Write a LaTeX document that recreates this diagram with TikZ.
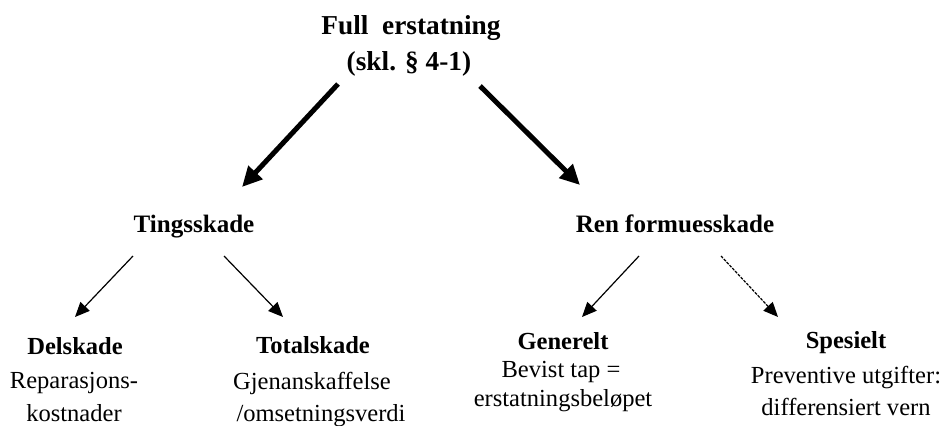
\documentclass[tikz,border=0pt]{standalone}
\usepackage{fontspec}
\setmainfont{Liberation Serif}
\usetikzlibrary{arrows.meta}
\tikzset{
  lbl/.style={anchor=base,inner sep=0pt,outer sep=0pt},
  topfont/.style={lbl,font=\fontsize{20.5}{24}\selectfont\bfseries},
  midfont/.style={lbl,font=\fontsize{18.8}{22}\selectfont\bfseries},
  headfont/.style={lbl,font=\fontsize{18.4}{22}\selectfont\bfseries},
  descfont/.style={lbl,font=\fontsize{18.4}{22}\selectfont},
  bigarrow/.style={line width=3.75pt,-{Triangle[length=15pt,width=14pt]}},
  thinarrow/.style={line width=0.9pt,-{Triangle[length=11pt,width=9.5pt]}},
  dotarrow/.style={thinarrow,dash pattern=on 2.2pt off 0.9pt}
}
\begin{document}
\begin{tikzpicture}[x=0.75pt,y=-0.75pt]
\useasboundingbox (0,0) rectangle (944,425);
% top
\node[topfont] (full) at (411,34) {Full\ \ erstatning};
\node[topfont] (skl) at (409,70) {(skl. § 4-1)};
% level 2
\node[midfont] (ting) at (194,232) {Tingsskade};
\node[midfont] (ren) at (675,232) {Ren formuesskade};
% bottom
\node[headfont] (del) at (75,354) {Delskade};
\node[descfont] (del1) at (74,388) {Reparasjons-};
\node[descfont] (del2) at (74,421) {kostnader};
\node[headfont] (tot) at (313,353) {Totalskade};
\node[descfont] (tot1) at (312,389) {Gjenanskaffelse};
\node[descfont] (tot2) at (321,421) {/omsetningsverdi};
\node[headfont] (gen) at (563,349) {Generelt};
\node[descfont] (gen1) at (561,377) {Bevist tap =};
\node[descfont] (gen2) at (563,406) {erstatningsbeløpet};
\node[headfont] (spe) at (846,348) {Spesielt};
\node[descfont] (spe1) at (846,383) {Preventive utgifter:};
\node[descfont] (spe2) at (846,415) {differensiert vern};
% arrow end points
\coordinate (a1s) at (338,84);
\coordinate (a1e) at (242,187);
\coordinate (a2s) at (480,86);
\coordinate (a2e) at (580,185);
\coordinate (b1s) at (133,256);
\coordinate (b1e) at (75,317);
\coordinate (b2s) at (224,256);
\coordinate (b2e) at (283,317);
\coordinate (c1s) at (639,256);
\coordinate (c1e) at (582,317);
\coordinate (c2s) at (721,256);
\coordinate (c2e) at (778,317);
\draw[bigarrow] (a1s) -- (a1e);
\draw[bigarrow] (a2s) -- (a2e);
\draw[thinarrow] (b1s) -- (b1e);
\draw[thinarrow] (b2s) -- (b2e);
\draw[thinarrow] (c1s) -- (c1e);
\draw[dotarrow] (c2s) -- (c2e);
\end{tikzpicture}
\end{document}
